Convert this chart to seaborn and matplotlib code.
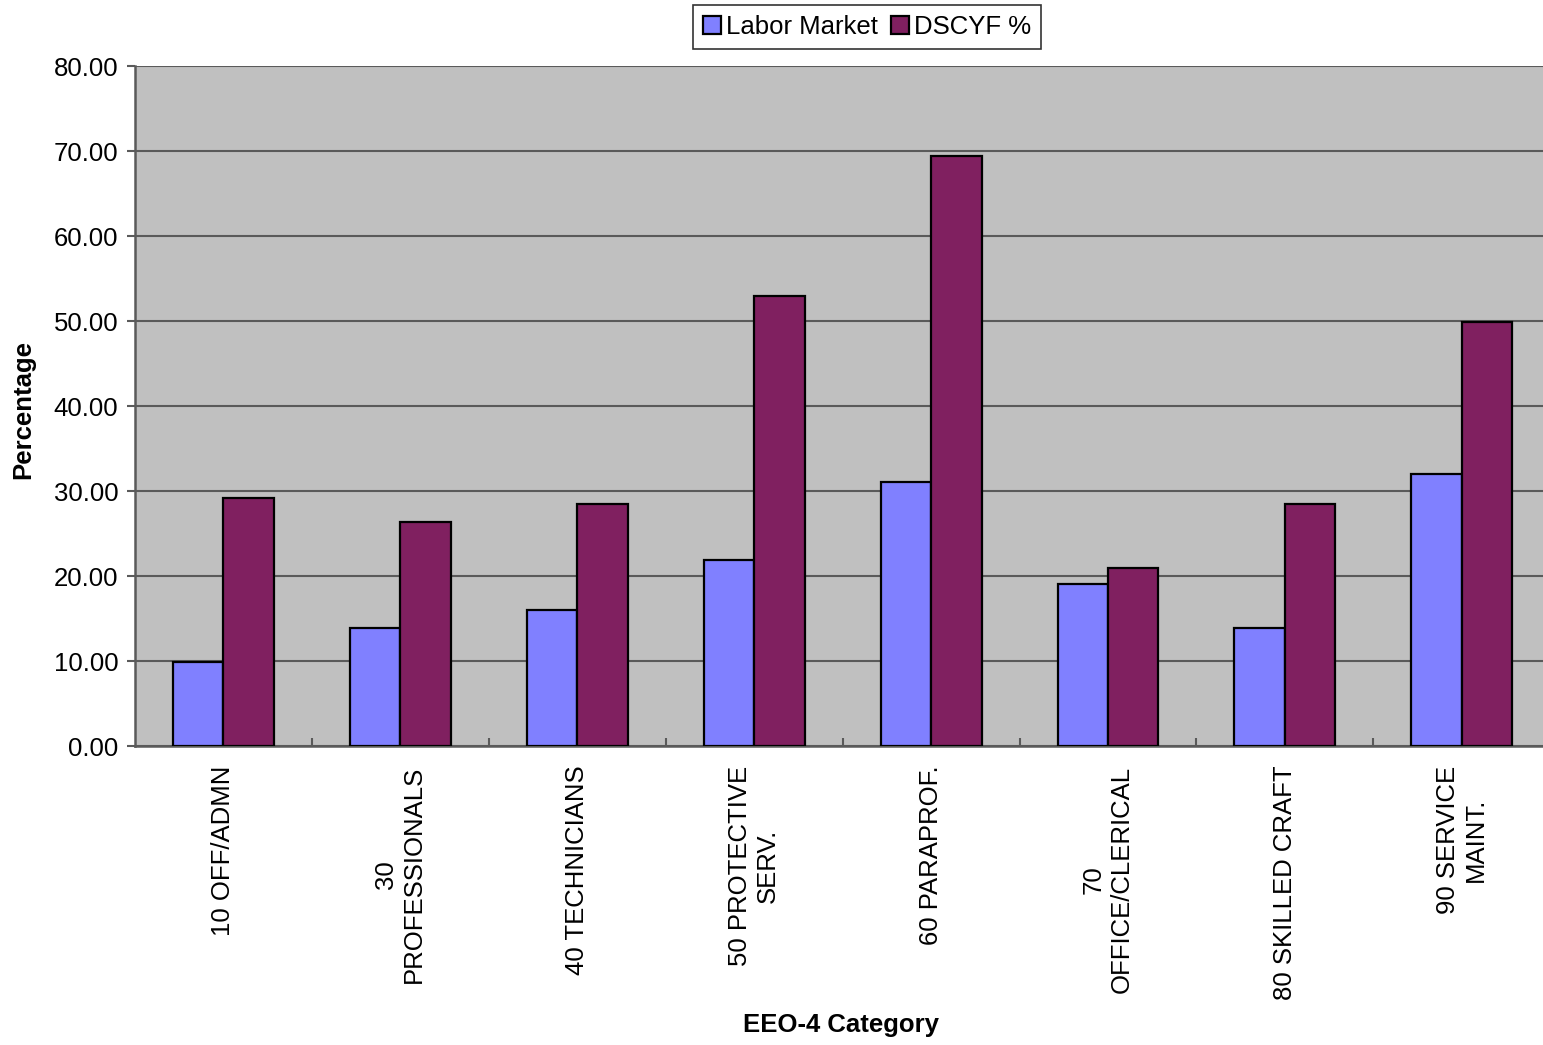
import numpy as np
import pandas as pd
import matplotlib
matplotlib.use("Agg")
import matplotlib.pyplot as plt
import seaborn as sns
from matplotlib.ticker import FixedLocator, FormatStrFormatter

categories = [
    "10 OFF/ADMN",
    "30\nPROFESSIONALS",
    "40 TECHNICIANS",
    "50 PROTECTIVE\nSERV.",
    "60 PARAPROF.",
    "70\nOFFICE/CLERICAL",
    "80 SKILLED CRAFT",
    "90 SERVICE\nMAINT.",
]
labor_market = [9.9, 13.9, 16.0, 21.9, 31.1, 19.1, 13.9, 32.0]
dscyf_pct = [29.2, 26.4, 28.5, 52.9, 69.4, 20.9, 28.5, 49.9]
series_names = ["Labor Market", "DSCYF %"]
series_colors = ["#8080FF", "#802060"]

df = pd.DataFrame({
    "Category": categories * 2,
    "Series": [series_names[0]] * len(categories) + [series_names[1]] * len(categories),
    "Value": labor_market + dscyf_pct,
})

sns.set_style("white")
plt.rcParams["font.family"] = ["Liberation Sans", "DejaVu Sans"]
plt.rcParams["text.color"] = "black"
plt.rcParams["xtick.color"] = "black"
plt.rcParams["ytick.color"] = "black"

FS = 18.5

fig = plt.figure(figsize=(15.43, 10.45), dpi=100)
# plot area runs just past the right edge of the figure
ax = fig.add_axes([0.0875, 0.2861, 0.9172, 0.6507])
ax.set_facecolor("#C0C0C0")

sns.barplot(
    data=df, x="Category", y="Value", hue="Series",
    order=categories, hue_order=series_names,
    palette=series_colors, width=0.57, gap=0,
    edgecolor="black", linewidth=1.6, saturation=1,
    errorbar=None, ax=ax, zorder=3,
)

ax.set_xlim(-0.5, len(categories) - 0.5)
ax.set_ylim(0, 80)
ax.yaxis.set_major_locator(FixedLocator(np.arange(0, 81, 10)))
ax.yaxis.set_major_formatter(FormatStrFormatter("%.2f"))
ax.grid(axis="y", color="#5a5a5a", linewidth=1.5, zorder=0)
ax.set_axisbelow(True)

for side in ["top", "right"]:
    ax.spines[side].set_visible(False)
for side in ["left", "bottom"]:
    ax.spines[side].set_color("#5a5a5a")
    ax.spines[side].set_linewidth(1.8)

ax.tick_params(axis="y", which="major", direction="out", length=6, width=1.5,
               color="#5a5a5a", labelcolor="black", labelsize=FS, pad=6, left=True)
ax.set_xticks(range(len(categories)))
ax.set_xticklabels([])
ax.tick_params(axis="x", which="major", length=0)
ax.xaxis.set_minor_locator(FixedLocator(np.arange(0.5, len(categories) - 0.5, 1)))
ax.tick_params(axis="x", which="minor", direction="in", length=6, width=1.5,
               color="#5a5a5a", bottom=True)

for i, lab in enumerate(categories):
    ax.text(i, -2.3, lab, rotation=90, ha="center", va="top",
            multialignment="center", fontsize=FS, color="black")

ax.set_xlabel("")
ax.set_ylabel("")
fig.text(0.545, 0.019, "EEO-4 Category", ha="center", va="center",
         fontsize=FS, fontweight="bold", color="black")
fig.text(0.015, 0.608, "Percentage", ha="center", va="center",
         rotation=90, fontsize=FS, fontweight="bold", color="black")

handles, labels = ax.get_legend_handles_labels()
if ax.legend_:
    ax.legend_.remove()
leg = fig.legend(handles, labels, loc="center", bbox_to_anchor=(0.562, 0.974),
                 ncol=2, fontsize=FS, frameon=True, fancybox=False,
                 edgecolor="black", handlelength=0.7, handleheight=0.7,
                 handletextpad=0.2, columnspacing=0.5, borderpad=0.4,
                 borderaxespad=0, labelcolor="black")
leg.get_frame().set_linewidth(1.2)

fig.savefig("out.png", dpi=100)
